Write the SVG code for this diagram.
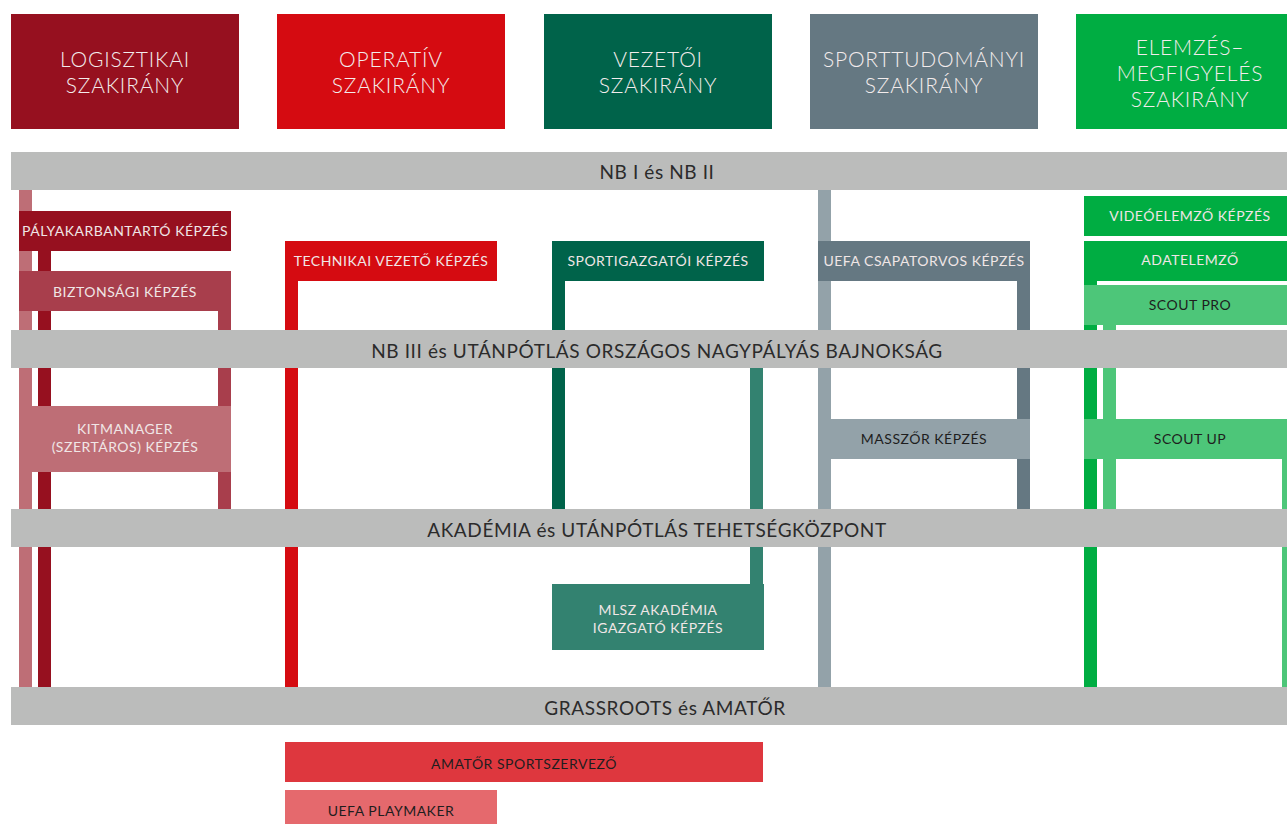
<svg xmlns="http://www.w3.org/2000/svg" width="1287" height="824" viewBox="0 0 1287 824">
<style>
  .hd { font-family: Lato, "Liberation Sans", sans-serif; font-weight: 300; font-size: 21px; letter-spacing: 0.8px; fill: #F3ECEC; text-anchor: middle; }
  .bar { fill: #BBBCBB; }
  .bt { font-family: Lato, "Liberation Sans", sans-serif; font-size: 19px; letter-spacing: 0.6px; fill: #2B2B2B; text-anchor: middle; }
  .lt { font-family: Lato, "Liberation Sans", sans-serif; font-size: 14px; letter-spacing: 0.5px; fill: #F0E6E6; text-anchor: middle; }
  .dt { font-family: Lato, "Liberation Sans", sans-serif; font-size: 14px; letter-spacing: 0.5px; fill: #1E1E1E; text-anchor: middle; }
  .c { stroke-width: 13; fill: none; }
</style>

<!-- connectors (vertical lines) -->
<g id="connectors">
  <line class="c" x1="25.5" y1="190" x2="25.5" y2="687" stroke="#BE6E76"/>
  <line class="c" x1="44.5" y1="251" x2="44.5" y2="687" stroke="#96101F"/>
  <line class="c" x1="224.5" y1="311" x2="224.5" y2="509" stroke="#A83E4C"/>
  <line class="c" x1="291.5" y1="281" x2="291.5" y2="687" stroke="#D50B11"/>
  <line class="c" x1="558.5" y1="281" x2="558.5" y2="509" stroke="#00634A"/>
  <line class="c" x1="756.5" y1="368" x2="756.5" y2="584" stroke="#338270"/>
  <line class="c" x1="824.5" y1="190" x2="824.5" y2="687" stroke="#93A2A9"/>
  <line class="c" x1="1023.5" y1="281" x2="1023.5" y2="509" stroke="#657882"/>
  <line class="c" x1="1090.5" y1="281" x2="1090.5" y2="687" stroke="#00AD42"/>
  <line class="c" x1="1109.5" y1="325" x2="1109.5" y2="509" stroke="#4DC679"/>
  <line class="c" x1="1288.5" y1="459" x2="1288.5" y2="687" stroke="#4DC679"/>
</g>

<!-- headers -->
<g id="h-logisztikai">
  <rect x="11" y="14" width="228" height="115" fill="#96101F"/>
  <text class="hd" x="125" y="67">LOGISZTIKAI</text>
  <text class="hd" x="125" y="93">SZAKIRÁNY</text>
</g>
<g id="h-operativ">
  <rect x="277" y="14" width="228" height="115" fill="#D50B11"/>
  <text class="hd" x="391" y="67">OPERATÍV</text>
  <text class="hd" x="391" y="93">SZAKIRÁNY</text>
</g>
<g id="h-vezetoi">
  <rect x="544" y="14" width="228" height="115" fill="#00634A"/>
  <text class="hd" x="658" y="67">VEZETŐI</text>
  <text class="hd" x="658" y="93">SZAKIRÁNY</text>
</g>
<g id="h-sporttudomanyi">
  <rect x="810" y="14" width="228" height="115" fill="#657882"/>
  <text class="hd" x="924" y="67">SPORTTUDOMÁNYI</text>
  <text class="hd" x="924" y="93">SZAKIRÁNY</text>
</g>
<g id="h-elemzes">
  <rect x="1076" y="14" width="228" height="115" fill="#00AD42"/>
  <text class="hd" x="1190" y="55">ELEMZÉS–</text>
  <text class="hd" x="1190" y="81">MEGFIGYELÉS</text>
  <text class="hd" x="1190" y="107">SZAKIRÁNY</text>
</g>

<!-- level bars -->
<g id="bar-nb1">
  <rect class="bar" x="11" y="152" width="1276" height="38"/>
  <text class="bt" x="657" y="179">NB I és NB II</text>
</g>
<g id="bar-nb3">
  <rect class="bar" x="11" y="330" width="1276" height="38"/>
  <text class="bt" x="657" y="358">NB III és UTÁNPÓTLÁS ORSZÁGOS NAGYPÁLYÁS BAJNOKSÁG</text>
</g>
<g id="bar-akademia">
  <rect class="bar" x="11" y="509" width="1276" height="38"/>
  <text class="bt" x="657" y="537">AKADÉMIA és UTÁNPÓTLÁS TEHETSÉGKÖZPONT</text>
</g>
<g id="bar-grassroots">
  <rect class="bar" x="11" y="687" width="1276" height="38"/>
  <text class="bt" x="665" y="715">GRASSROOTS és AMATŐR</text>
</g>

<!-- course boxes -->
<g id="n-palyakarbantarto">
  <rect x="19" y="211" width="212" height="40" fill="#96101F"/>
  <text class="lt" x="125" y="236">PÁLYAKARBANTARTÓ KÉPZÉS</text>
</g>
<g id="n-biztonsagi">
  <rect x="19" y="271" width="212" height="40" fill="#A83E4C"/>
  <text class="lt" x="125" y="297">BIZTONSÁGI KÉPZÉS</text>
</g>
<g id="n-kitmanager">
  <rect x="19" y="406" width="212" height="66" fill="#BE6E76"/>
  <text class="lt" x="125" y="434">KITMANAGER</text>
  <text class="lt" x="125" y="452">(SZERTÁROS) KÉPZÉS</text>
</g>
<g id="n-technikai">
  <rect x="285" y="241" width="212" height="40" fill="#D50B11"/>
  <text class="lt" x="391" y="266">TECHNIKAI VEZETŐ KÉPZÉS</text>
</g>
<g id="n-sportigazgatoi">
  <rect x="552" y="241" width="212" height="40" fill="#00634A"/>
  <text class="lt" x="658" y="266">SPORTIGAZGATÓI KÉPZÉS</text>
</g>
<g id="n-mlsz">
  <rect x="552" y="584" width="212" height="66" fill="#338270"/>
  <text class="lt" x="658" y="615">MLSZ AKADÉMIA</text>
  <text class="lt" x="658" y="633">IGAZGATÓ KÉPZÉS</text>
</g>
<g id="n-csapatorvos">
  <rect x="818" y="241" width="212" height="40" fill="#657882"/>
  <text class="lt" x="924" y="266">UEFA CSAPATORVOS KÉPZÉS</text>
</g>
<g id="n-masszor">
  <rect x="818" y="419" width="212" height="40" fill="#93A2A9"/>
  <text class="dt" x="924" y="444">MASSZŐR KÉPZÉS</text>
</g>
<g id="n-videoelemzo">
  <rect x="1084" y="196" width="212" height="40" fill="#00AD42"/>
  <text class="lt" x="1190" y="221">VIDEÓELEMZŐ KÉPZÉS</text>
</g>
<g id="n-adatelemzo">
  <rect x="1084" y="241" width="212" height="40" fill="#00AD42"/>
  <text class="lt" x="1190" y="265">ADATELEMZŐ</text>
</g>
<g id="n-scoutpro">
  <rect x="1084" y="285" width="212" height="40" fill="#4DC679"/>
  <text class="dt" x="1190" y="310">SCOUT PRO</text>
</g>
<g id="n-scoutup">
  <rect x="1084" y="419" width="212" height="40" fill="#4DC679"/>
  <text class="dt" x="1190" y="444">SCOUT UP</text>
</g>
<g id="n-amator">
  <rect x="285" y="742" width="478" height="40" fill="#DE373E"/>
  <text class="dt" x="524" y="769">AMATŐR SPORTSZERVEZŐ</text>
</g>
<g id="n-playmaker">
  <rect x="285" y="790" width="212" height="40" fill="#E5696D"/>
  <text class="dt" x="391" y="816">UEFA PLAYMAKER</text>
</g>
</svg>
